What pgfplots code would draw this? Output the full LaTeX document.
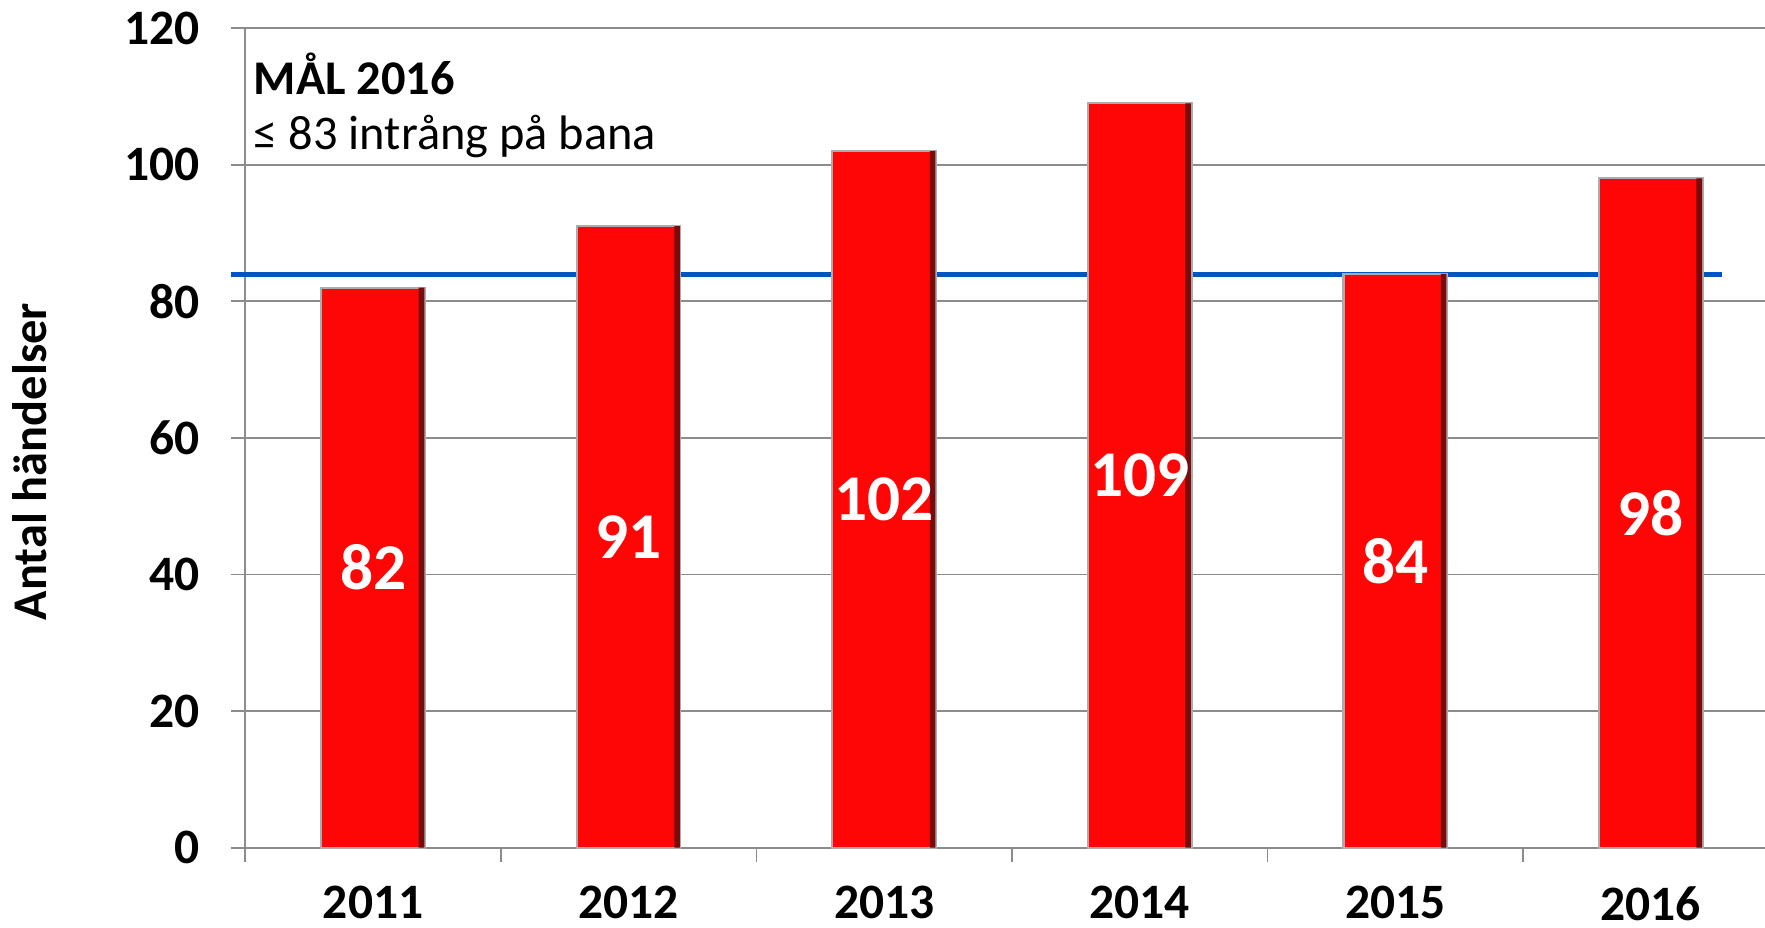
\documentclass[border=0pt]{standalone}
\usepackage{fontspec}
\setmainfont{Carlito}
\usepackage{pgfplots}
\usepackage{pgfplotstable}
\pgfplotsset{compat=1.18}

\definecolor{barred}{RGB}{255,6,6}
\definecolor{barshadow}{RGB}{120,12,12}
\definecolor{goalblue}{RGB}{0,86,190}
\definecolor{gridgray}{RGB}{140,140,140}

% incidents per year
\pgfplotstableread{
x v
0 82
1 91
2 102
3 109
4 84
5 98
}\incidents

\begin{document}
\begin{tikzpicture}
\begin{axis}[
    scale only axis,
    width=675pt, height=364pt,
    xmin=-0.5, xmax=5.447,
    ymin=0, ymax=120,
    axis x line*=bottom, axis y line*=left,
    axis line style={gridgray, line width=0.8pt},
    ytick={0,20,...,120},
    xtick={0,...,5},
    xticklabels={2011,2012,2013,2014,2015,2016},
    minor xtick={-0.5,0.5,...,4.5},
    tick align=outside,
    major tick length=6.5pt, minor tick length=6.5pt,
    tick style={gridgray, line width=0.8pt},
    major x tick style={draw=none},
    ymajorgrids=true,
    grid style={gridgray, line width=0.8pt},
    /pgf/number format/assume math mode=true,
    ticklabel style={font=\bfseries\fontsize{22}{26}\selectfont},
    yticklabel style={anchor=east, inner sep=0pt, xshift=-13.5pt},
    xticklabel style={anchor=north, inner sep=0pt, yshift=-10.5pt},
    ylabel={Antal händelser},
    ylabel style={at={(axis description cs:0,0.471)}, anchor=center,
        yshift=96pt, font=\bfseries\fontsize{21.5}{24}\selectfont},
    clip=false,
]
\coordinate (o) at (rel axis cs:0,0);
% goal line
\addplot[goalblue, line width=2.2pt, mark=none]
    coordinates {(-0.557,83.9) (5.28,83.9)};
\addplot[ybar, bar width=46pt, bar shift=0pt, fill=barred, draw=gray!65, line width=0.9pt]
    table[x=x, y=v] {\incidents};
% dark right edge of each bar
\addplot[ybar, bar width=2.5pt, bar shift=21.5pt, draw=none, fill=barshadow]
    table[x=x, y=v] {\incidents};
\addplot[draw=none, mark=none, nodes near coords, nodes near coords align={center},
    point meta=explicit,
    every node near coord/.append style={text=white,
        font=\bfseries\fontsize{29}{32}\selectfont}]
    table[x=x, y expr=\thisrow{v}/2, meta=v] {\incidents};
\node[anchor=base west, inner sep=0pt, font=\bfseries\fontsize{21.5}{26}\selectfont]
    at (axis cs:-0.469,110.35) {MÅL 2016};
\node[anchor=base west, inner sep=0pt, font=\fontsize{21.5}{26}\selectfont]
    at (axis cs:-0.469,102.2) {≤ 83 intrång på bana};
\end{axis}
\pgfresetboundingbox
\path[use as bounding box] ([shift={(-109pt,-35.5pt)}]o) rectangle ([shift={(675pt,376.5pt)}]o);
\end{tikzpicture}
\end{document}
